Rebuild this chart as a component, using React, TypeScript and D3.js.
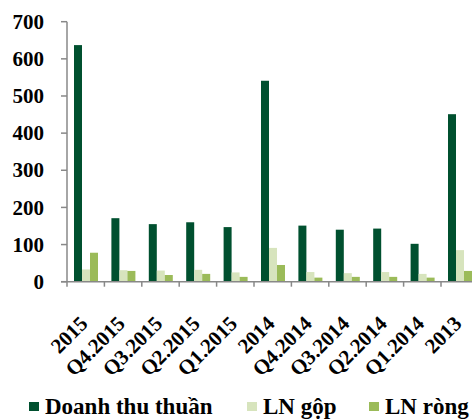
import { useEffect, useRef } from 'react';
import * as d3 from 'd3';

const categories = ['2015', 'Q4.2015', 'Q3.2015', 'Q2.2015', 'Q1.2015', '2014', 'Q4.2014', 'Q3.2014', 'Q2.2014', 'Q1.2014', '2013'];
const seriesNames = ['Doanh thu thuần', 'LN gộp', 'LN ròng'];
const doanhThu = [637, 171, 155, 160, 147, 541, 151, 140, 143, 102, 451];
const lnGop = [33, 31, 30, 32, 25, 91, 26, 23, 26, 21, 85];
const lnRong = [78, 29, 18, 21, 13, 45, 11, 13, 13, 11, 29];
const yTicks = [0, 100, 200, 300, 400, 500, 600, 700];
const colors = ['#00502f', '#d7e4bd', '#9bbb59'];

export default function App() {
  const svgRef = useRef<SVGSVGElement>(null);

  useEffect(() => {
    if (!svgRef.current) return;
    const svg = d3.select(svgRef.current);
    svg.selectAll('*').remove();

    const font = "'Liberation Serif', 'Times New Roman', serif";
    const left = 67;
    const step = 37.4;
    const baseY = 281.7;

    const x = d3
      .scaleBand()
      .domain(categories)
      .range([left, left + step * categories.length])
      .padding(0);
    const x1 = d3.scaleBand().domain(seriesNames).range([7, 31]).padding(0);
    const y = d3.scaleLinear().domain([0, 700]).range([baseY, 21.7]);

    const values = [doanhThu, lnGop, lnRong];

    // bars
    seriesNames.forEach((name, si) => {
      svg
        .append('g')
        .selectAll('rect')
        .data(categories)
        .enter()
        .append('rect')
        .attr('x', (c) => x(c)! + x1(name)!)
        .attr('y', (_, i) => y(values[si][i]))
        .attr('width', x1.bandwidth())
        .attr('height', (_, i) => baseY - y(values[si][i]))
        .attr('fill', colors[si]);
    });

    // y axis
    const ya = svg.append('g').attr('stroke', '#888').attr('stroke-width', 1.5);
    ya.append('line').attr('x1', left).attr('x2', left).attr('y1', y(700)).attr('y2', baseY);
    ya.selectAll('line.t')
      .data(yTicks)
      .enter()
      .append('line')
      .attr('x1', left - 6)
      .attr('x2', left)
      .attr('y1', (d) => y(d))
      .attr('y2', (d) => y(d));

    svg
      .append('g')
      .selectAll('text')
      .data(yTicks)
      .enter()
      .append('text')
      .attr('x', 44)
      .attr('y', (d) => y(d))
      .attr('dy', '0.34em')
      .attr('text-anchor', 'end')
      .attr('font-family', font)
      .attr('font-weight', 'bold')
      .attr('font-size', 21)
      .text((d) => d);

    // x axis
    const xa = svg.append('g').attr('stroke', '#888').attr('stroke-width', 1.5);
    xa.append('line').attr('x1', left - 6).attr('x2', 472).attr('y1', baseY).attr('y2', baseY);
    xa.selectAll('line.t')
      .data(categories)
      .enter()
      .append('line')
      .attr('x1', (c) => x(c)!)
      .attr('x2', (c) => x(c)!)
      .attr('y1', baseY)
      .attr('y2', baseY + 5);

    svg
      .append('g')
      .selectAll('text')
      .data(categories)
      .enter()
      .append('text')
      .attr('transform', (c) => `translate(${x(c)! + x.bandwidth() / 2 - 2}, ${baseY + 38}) rotate(-45)`)
      .attr('text-anchor', 'end')
      .attr('dy', '0.35em')
      .attr('font-family', font)
      .attr('font-weight', 'bold')
      .attr('font-size', 21)
      .text((c) => c);

    // legend
    const legendX = [29, 247, 369];
    const lg = svg.append('g');
    seriesNames.forEach((name, i) => {
      lg.append('rect')
        .attr('x', legendX[i])
        .attr('y', 402)
        .attr('width', 10)
        .attr('height', 9)
        .attr('fill', colors[i]);
      lg.append('text')
        .attr('x', legendX[i] + 16)
        .attr('y', 414)
        .attr('font-family', font)
        .attr('font-weight', 'bold')
        .attr('font-size', 23)
        .text(name);
    });
  }, []);

  return (
    <svg
      ref={svgRef}
      width={472}
      height={420}
      style={{ position: 'absolute', left: 0, top: 0, background: '#fff' }}
    ></svg>
  );
}
